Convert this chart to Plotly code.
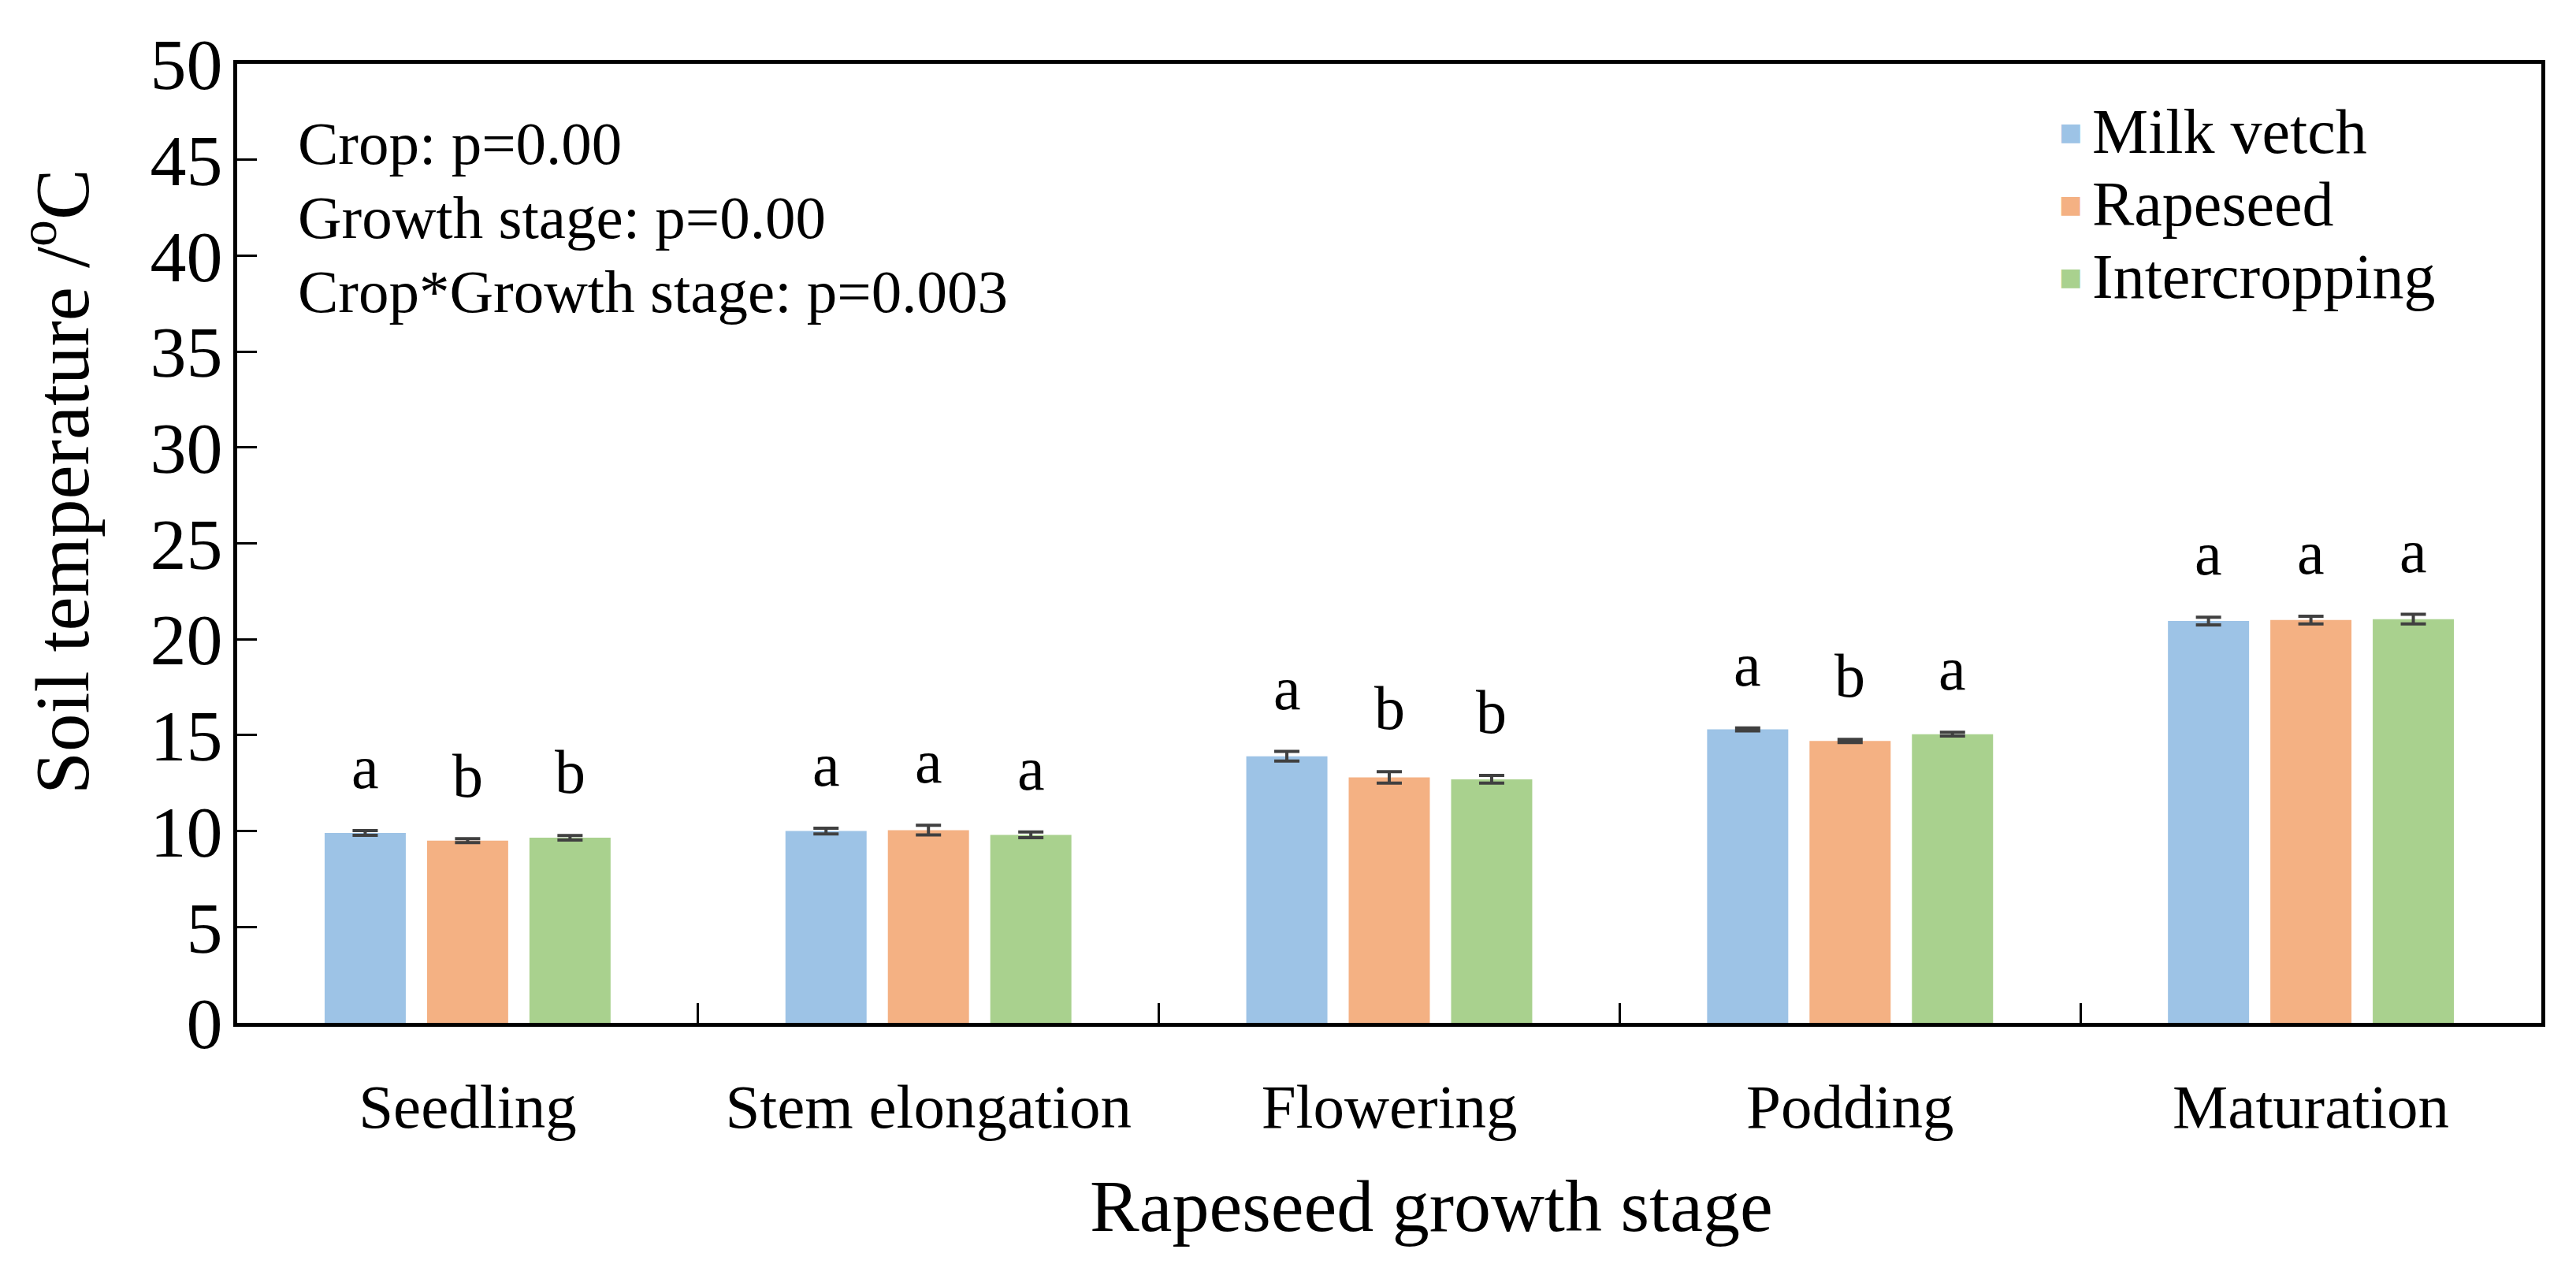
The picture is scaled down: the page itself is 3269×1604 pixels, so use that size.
import plotly.graph_objects as go

stages = ["Seedling", "Stem elongation", "Flowering", "Podding", "Maturation"]
series_names = ["Milk vetch", "Rapeseed", "Intercropping"]
colors = ["#9DC3E6", "#F4B183", "#A9D18E"]

milk_vetch = [9.9, 10.0, 13.9, 15.3, 20.95]
rapeseed = [9.5, 10.05, 12.8, 14.7, 21.0]
intercropping = [9.65, 9.8, 12.7, 15.05, 21.05]

milk_vetch_err = [0.12, 0.15, 0.25, 0.08, 0.2]
rapeseed_err = [0.1, 0.25, 0.3, 0.08, 0.2]
intercropping_err = [0.12, 0.15, 0.2, 0.1, 0.25]

milk_vetch_letters = ["a", "a", "a", "a", "a"]
rapeseed_letters = ["b", "a", "b", "b", "a"]
intercropping_letters = ["b", "a", "b", "a", "a"]

stats_lines = ["Crop: p=0.00", "Growth stage: p=0.00", "Crop*Growth stage: p=0.003"]

values = [milk_vetch, rapeseed, intercropping]
errors = [milk_vetch_err, rapeseed_err, intercropping_err]
letters = [milk_vetch_letters, rapeseed_letters, intercropping_letters]

FONT = "Liberation Serif, Times New Roman, serif"
W, H = 3269, 1604
ML, MR, MT, MB = 293, 52, 73, 314
BARGAP = 1 - 390 / 585
BARGROUPGAP = 27 / 130

plot_w = W - ML - MR
plot_h = H - MT - MB


def px_x(px):
    return (px - ML) / plot_w


def px_y(py):
    return (H - MB - py) / plot_h


fig = go.Figure()
for name, vals, errs, col in zip(series_names, values, errors, colors):
    fig.add_trace(go.Bar(
        x=stages, y=vals, name=name, showlegend=False,
        marker=dict(color=col, line=dict(width=0)),
        error_y=dict(type="data", array=errs, color="#404040", thickness=4, width=16),
    ))

slot = plot_w / len(stages) * (1 - BARGAP) / 3
annotations = []
for i, (vals, errs, labs) in enumerate(zip(values, errors, letters)):
    for st, v, e, lab in zip(stages, vals, errs, labs):
        annotations.append(dict(
            x=st, y=v + e + 3.3, xref="x", yref="y", text=lab, showarrow=False,
            xshift=(i - 1) * slot, yanchor="middle",
            font=dict(family=FONT, size=78, color="black"),
        ))

for k, line in enumerate(stats_lines):
    annotations.append(dict(
        x=px_x(368), y=px_y(174 + k * 94), xref="paper", yref="paper", text=line,
        showarrow=False, xanchor="left", yanchor="middle",
        font=dict(family=FONT, size=77, color="black"),
    ))

# legend (drawn as text entries with colour swatches)
for k, (name, col) in enumerate(zip(series_names, colors)):
    yy = px_y(159 + k * 92)
    annotations.append(dict(
        x=px_x(2619), y=yy, xref="paper", yref="paper", text="■", showarrow=False,
        xanchor="center", yanchor="middle",
        font=dict(family="DejaVu Sans", size=31, color=col),
    ))
    annotations.append(dict(
        x=px_x(2645), y=yy, xref="paper", yref="paper", text=name, showarrow=False,
        xanchor="left", yanchor="middle",
        font=dict(family=FONT, size=80, color="black"),
    ))

# axis titles
annotations.append(dict(
    x=px_x(63), y=px_y(603), xref="paper", yref="paper",
    text="Soil temperature /<sup>o</sup>C", textangle=-90, showarrow=False,
    xanchor="center", yanchor="middle",
    font=dict(family=FONT, size=97, color="black"),
))
annotations.append(dict(
    x=px_x(1808), y=px_y(1522), xref="paper", yref="paper",
    text="Rapeseed growth stage", showarrow=False,
    xanchor="center", yanchor="middle",
    font=dict(family=FONT, size=94, color="black"),
))

fig.update_layout(
    width=W, height=H,
    margin=dict(l=ML, r=MR, t=MT, b=MB, autoexpand=False),
    paper_bgcolor="white", plot_bgcolor="white",
    barmode="group", bargap=BARGAP, bargroupgap=BARGROUPGAP,
    font=dict(family=FONT, color="black"),
    annotations=annotations,
    showlegend=False,
    xaxis=dict(
        showline=True, linecolor="black", linewidth=5, mirror=True,
        ticks="inside", tickson="boundaries", ticklen=25, tickwidth=3, tickcolor="black",
        tickfont=dict(family=FONT, size=79, color="black"),
        ticklabelstandoff=33,
        showgrid=False, zeroline=False,
    ),
    yaxis=dict(
        range=[0, 50], dtick=5, tick0=0,
        showline=True, linecolor="black", linewidth=5, mirror=True,
        ticks="inside", ticklen=25, tickwidth=3, tickcolor="black",
        tickfont=dict(family=FONT, size=92, color="black"),
        ticklabelstandoff=-5,
        showgrid=False, zeroline=False,
    ),
)

fig.write_html("out.html")
